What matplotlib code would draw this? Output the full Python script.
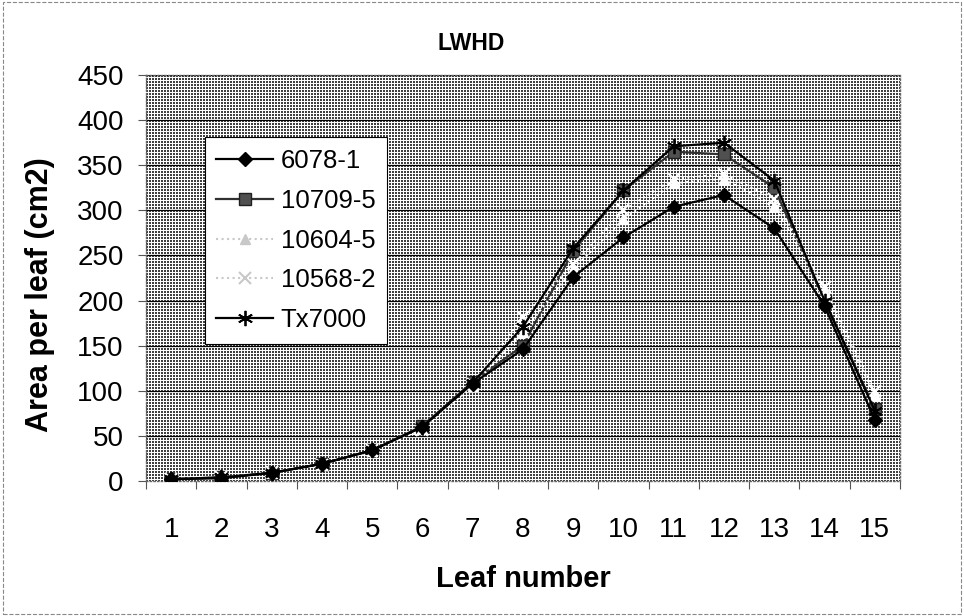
import numpy as np
import matplotlib
matplotlib.use("Agg")
import matplotlib.pyplot as plt
from matplotlib.patches import Rectangle

plt.rcParams['font.family'] = ['Liberation Sans', 'DejaVu Sans']

# donnees
feuilles = list(range(1, 16))
s_6078_1 = [2, 3, 9, 19, 34, 60, 108, 146, 226, 270, 304, 317, 280, 194, 68]
s_10709_5 = [2, 4, 9, 19, 34, 61, 110, 150, 255, 322, 365, 362, 325, 200, 80]
s_10604_5 = [2, 4, 9, 18, 33, 58, 105, 165, 235, 290, 330, 335, 305, 210, 95]
s_10568_2 = [2, 4, 10, 18, 34, 57, 108, 182, 240, 300, 335, 340, 313, 215, 100]
s_tx7000 = [2, 4, 9, 19, 34, 60, 109, 171, 258, 322, 371, 375, 333, 200, 78]
noms = ["6078-1", "10709-5", "10604-5", "10568-2", "Tx7000"]
y_ticks = list(range(0, 451, 50))

fig = plt.figure(figsize=(9.64, 6.16), dpi=100)
ax = fig.add_axes([0.1515, 0.2192, 0.782, 0.659])

# fond pointillé façon Excel
h, w = 406, 754
i, j = np.mgrid[0:h, 0:w]
motif = np.where((i % 3 < 2) & (j % 3 < 2), 0.25, 1.0)
ax.imshow(motif, cmap='gray', vmin=0, vmax=1, extent=(0.5, 15.5, 0, 450),
          aspect='auto', interpolation='nearest', zorder=0)

for yv in y_ticks[1:]:
    ax.axhline(yv, color='black', lw=0.9, zorder=1)

ax.plot(feuilles, s_6078_1, color='black', lw=1.6, marker='D', ms=7,
        mfc='black', mec='black', label=noms[0], zorder=4)
ax.plot(feuilles, s_10709_5, color='#303030', lw=1.6, marker='s', ms=8,
        mfc='#505050', mec='#202020', label=noms[1], zorder=3)
ax.plot(feuilles, s_10604_5, color='white', lw=1.5, ls=':', marker='^', ms=7,
        mfc='white', mec='white', label=noms[2], zorder=3)
ax.plot(feuilles, s_10568_2, color='white', lw=1.5, ls=':', marker='x', ms=8,
        mew=1.5, mec='white', label=noms[3], zorder=3)
ax.plot(feuilles, s_tx7000, color='black', lw=1.6, marker=(6, 2, 0), ms=11,
        mew=1.3, mec='black', label=noms[4], zorder=5)

ax.set_xlim(0.5, 15.5)
ax.set_ylim(0, 450)
ax.set_yticks(y_ticks)
ax.set_xticks(feuilles)
ax.set_xticks(np.arange(0.5, 16, 1), minor=True)
ax.tick_params(axis='x', which='major', length=0, pad=26, labelsize=20)
ax.tick_params(axis='x', which='minor', length=6, width=0.8, direction='out', color='#555555')
ax.tick_params(axis='y', length=6, width=0.8, pad=10, labelsize=20, color='#555555')

for s in ax.spines.values():
    s.set_linestyle(':')
    s.set_color('#666666')
    s.set_linewidth(1)

leg = ax.legend(loc='upper left', bbox_to_anchor=(0.078, 0.847), fontsize=18.5,
                frameon=True, fancybox=False, framealpha=1, edgecolor='black',
                handlelength=2.2, labelspacing=0.62, borderpad=0.45, handletextpad=0.3,
                borderaxespad=0)
leg.get_frame().set_linewidth(0.8)
# lignes blanches visibles dans la légende
for ligne in leg.get_lines()[2:4]:
    ligne.set_color('#c8c8c8')
    ligne.set_markeredgecolor('#c8c8c8')
    ligne.set_markerfacecolor('#c8c8c8')

fig.text(0.4886, 0.930, "LWHD", ha='center', va='center', fontsize=16.5, fontweight='bold')
fig.text(0.0415, 0.521, "Area per leaf (cm2)", ha='center', va='center', rotation=90,
         fontsize=22, fontweight='bold')
fig.text(0.543, 0.060, "Leaf number", ha='center', va='center', fontsize=21, fontweight='bold')

fig.patches.append(Rectangle((0.003, 0.004), 0.994, 0.992, transform=fig.transFigure,
                             fill=False, ls='--', lw=0.8, edgecolor='#888888'))

fig.savefig("out.png", dpi=100)
